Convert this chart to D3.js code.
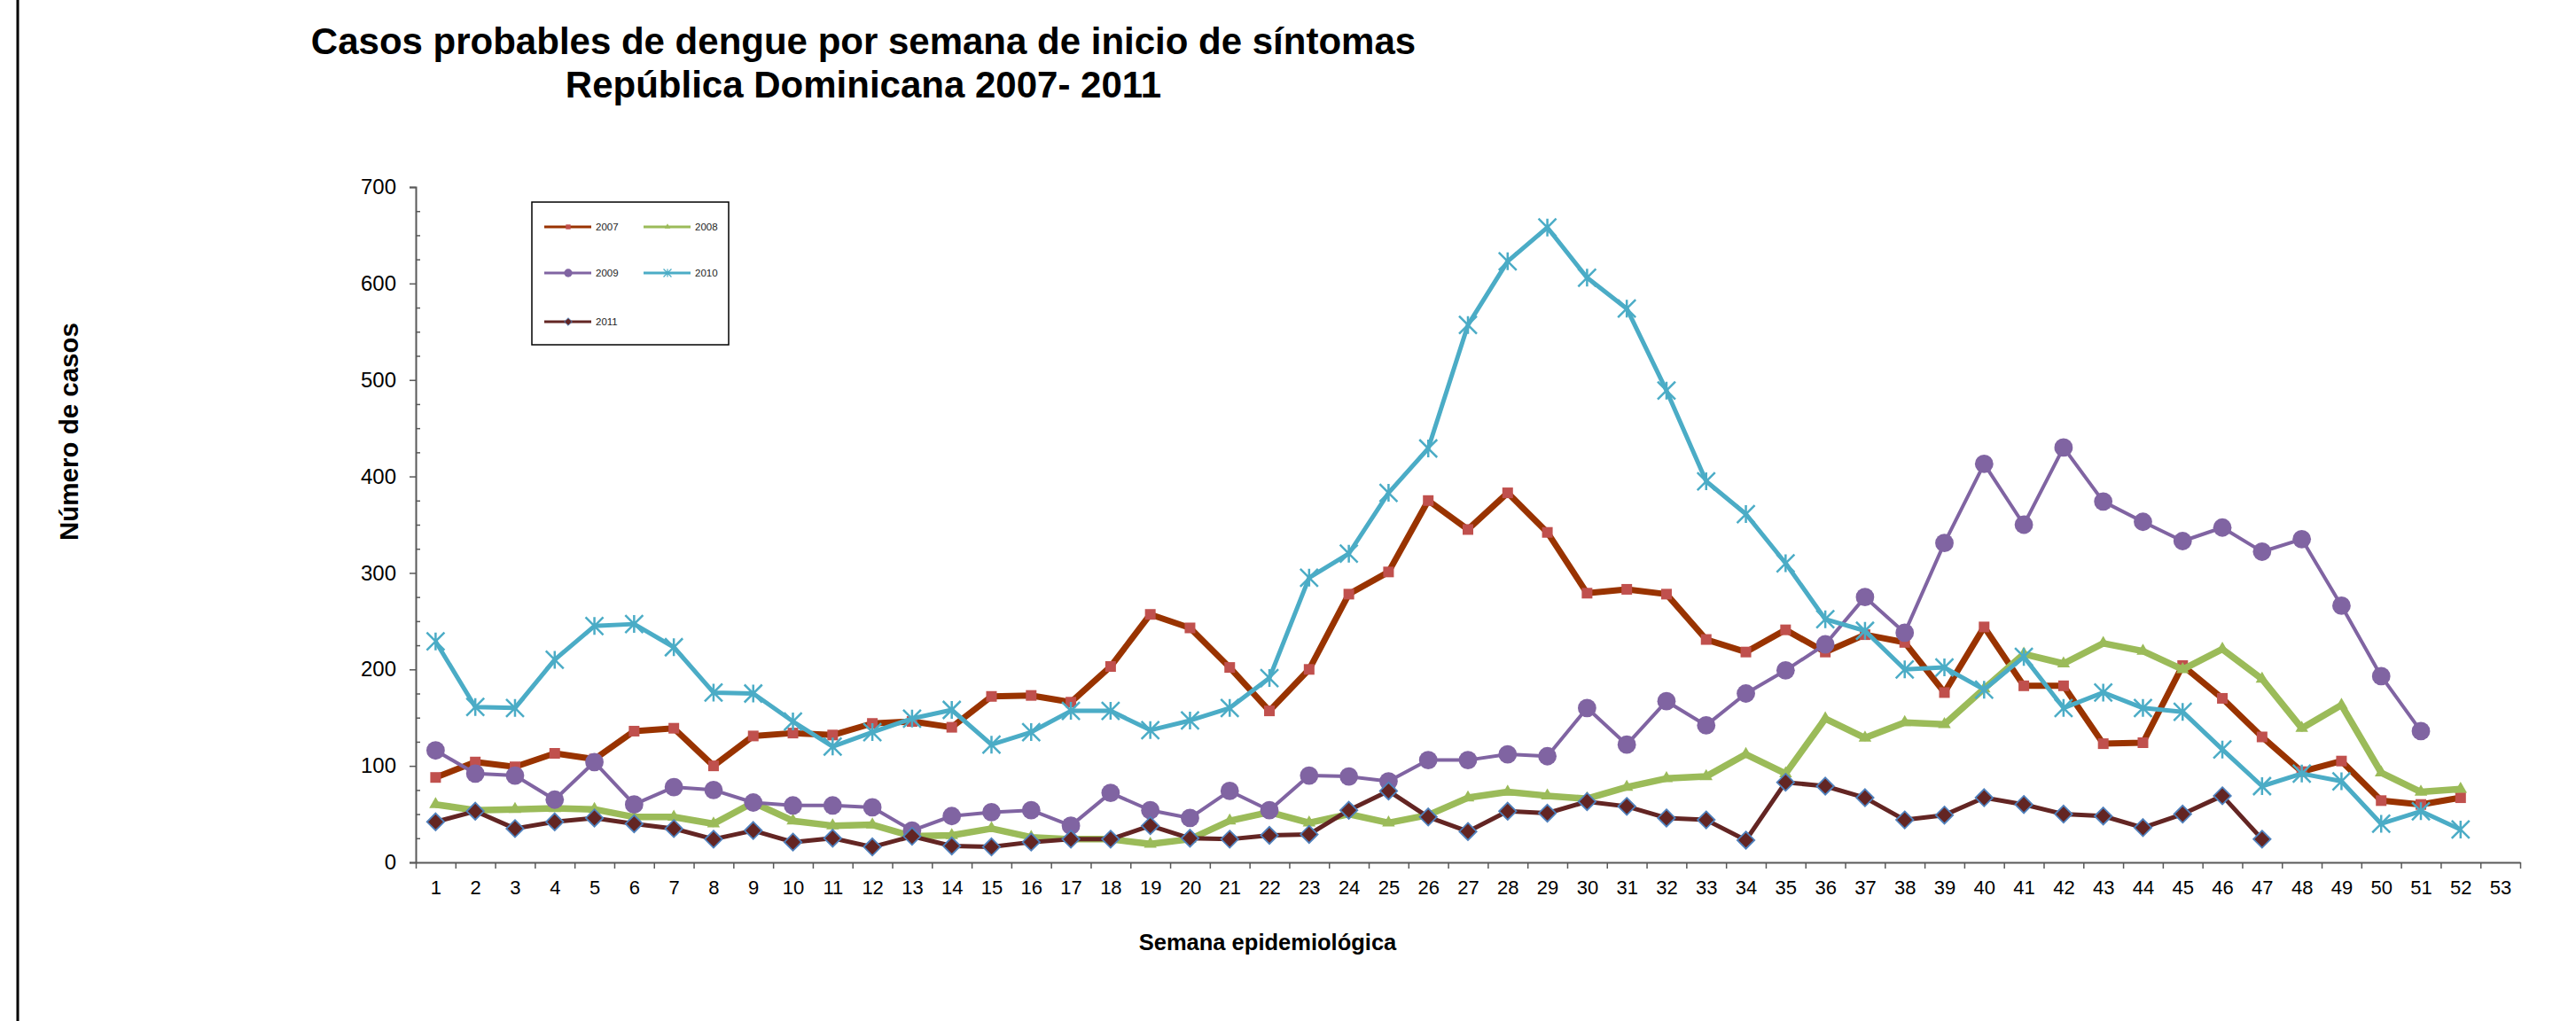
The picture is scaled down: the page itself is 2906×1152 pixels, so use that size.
<!DOCTYPE html>
<html>
<head>
<meta charset="utf-8">
<script src="https://cdn.jsdelivr.net/npm/d3@7"></script>
<style>
  body { margin: 0; background: #fff; }
  svg { display: block; font-family: Arial, 'Liberation Sans', sans-serif; }
</style>
</head>
<body>
<div id="chart"></div>
<script>
// weeks shown on the axis (no data for 53)
const weeks = d3.range(1, 54);
const years = ['2007', '2008', '2009', '2010', '2011'];

const cases2007 = [88, 104, 99, 113, 107, 136, 139, 100, 131, 134, 132, 144, 146, 140, 172, 173, 166, 203, 257, 243,
  202, 157, 200, 278, 301, 375, 345, 383, 342, 279, 283, 278, 231, 218, 241, 218, 236, 228, 176, 244,
  183, 183, 123, 124, 204, 170, 130, 94, 105, 64, 60, 67];
const cases2008 = [60, 54, 55, 56, 55, 47, 47, 40, 62, 43, 38, 39, 27, 28, 35, 26, 24, 24, 19, 24,
  43, 52, 41, 50, 41, 49, 67, 73, 69, 66, 78, 87, 89, 112, 92, 149, 129, 145, 143, 180,
  216, 206, 227, 219, 200, 221, 190, 139, 163, 93, 73, 76];
const cases2009 = [116, 92, 90, 65, 104, 60, 78, 75, 62, 59, 59, 57, 33, 48, 52, 54, 38, 72, 54, 46,
  74, 54, 90, 89, 84, 106, 106, 112, 110, 160, 122, 167, 142, 175, 199, 226, 275, 238, 331, 413,
  350, 430, 374, 353, 333, 347, 322, 335, 266, 193, 136];
const cases2010 = [229, 161, 160, 210, 245, 247, 223, 176, 175, 146, 120, 135, 149, 158, 122, 135, 157, 157, 137, 147,
  160, 191, 295, 320, 383, 429, 557, 623, 658, 606, 574, 489, 395, 361, 310, 252, 240, 200, 202, 179,
  213, 160, 176, 160, 156, 117, 79, 92, 84, 40, 53, 34];
const cases2011 = [42, 53, 35, 42, 46, 40, 35, 24, 33, 21, 25, 16, 27, 17, 16, 21, 24, 24, 38, 25,
  24, 28, 29, 54, 74, 47, 32, 53, 51, 63, 58, 46, 44, 23, 83, 79, 67, 44, 49, 67,
  60, 50, 48, 36, 50, 69, 24];

const yTicks = [0, 100, 200, 300, 400, 500, 600, 700];
const yMinorTicks = d3.range(25, 700, 25).filter(v => v % 100 !== 0);

const width = 2906;
const height = 1152;
const plot = { left: 469, right: 2843, top: 211, bottom: 973 };

// excel style star marker: an X with a vertical bar
const symbolStar = {
  draw(ctx, size) {
    const r = Math.sqrt(size) / 2;
    ctx.moveTo(-r, -r); ctx.lineTo(r, r);
    ctx.moveTo(-r, r); ctx.lineTo(r, -r);
    ctx.moveTo(0, -r); ctx.lineTo(0, r);
  }
};

const styles = {
  '2007': { line: '#993300', lw: 7, symbol: d3.symbolSquare, size: 144, fill: '#C0504D', stroke: 'none', sw: 0 },
  '2008': { line: '#9BBB59', lw: 7.5, symbol: d3.symbolTriangle, size: 90, fill: '#9BBB59', stroke: 'none', sw: 0 },
  '2009': { line: '#8064A2', lw: 4, symbol: d3.symbolCircle, size: 340, fill: '#8064A2', stroke: 'none', sw: 0 },
  '2010': { line: '#4BACC6', lw: 5, symbol: symbolStar, size: 400, fill: 'none', stroke: '#4BACC6', sw: 2.5 },
  '2011': { line: '#632523', lw: 5, symbol: d3.symbolDiamond2, size: 240, fill: '#632523', stroke: '#4F81BD', sw: 1.8 }
};

const seriesValues = [cases2007, cases2008, cases2009, cases2010, cases2011];
const series = years.map((yr, i) => ({
  name: yr,
  values: seriesValues[i].map((v, j) => ({ week: weeks[j], value: v }))
}));

const svg = d3.select('#chart')
  .append('svg')
  .attr('width', width)
  .attr('height', height);

svg.append('rect').attr('width', width).attr('height', height).attr('fill', '#fff');

// frame line on the left edge
svg.append('line')
  .attr('x1', 20).attr('x2', 20)
  .attr('y1', 0).attr('y2', height)
  .attr('stroke', '#000')
  .attr('stroke-width', 3);

const x = d3.scaleLinear()
  .domain([0.5, weeks.length + 0.5])
  .range([plot.left, plot.right]);

const y = d3.scaleLinear()
  .domain([0, 700])
  .range([plot.bottom, plot.top]);

// Title
const title = svg.append('text')
  .attr('text-anchor', 'middle')
  .style('font-weight', 'bold')
  .style('font-size', '42px')
  .attr('fill', '#000');
title.append('tspan').attr('x', 974).attr('y', 61).text('Casos probables de dengue por semana de inicio de síntomas');
title.append('tspan').attr('x', 974).attr('y', 110).text('República Dominicana 2007- 2011');

// Y axis: labelled ticks every 100, minor every 25 on the inside
const yAxis = svg.append('g')
  .attr('transform', `translate(${plot.left},0)`)
  .call(d3.axisLeft(y).tickValues(yTicks).tickSize(7).tickPadding(15).tickFormat(d3.format('d')));

svg.append('g')
  .attr('transform', `translate(${plot.left},0)`)
  .call(d3.axisRight(y).tickValues(yMinorTicks).tickSize(5).tickFormat(''))
  .call(g => g.select('.domain').remove());

// X axis: ticks between weeks, labels on the weeks
svg.append('g')
  .attr('transform', `translate(0,${plot.bottom})`)
  .call(d3.axisBottom(x).tickValues(d3.range(0.5, weeks.length + 1, 1)).tickSize(7).tickSizeOuter(0).tickFormat(''));

const xLabels = svg.append('g')
  .attr('transform', `translate(0,${plot.bottom})`)
  .call(d3.axisBottom(x).tickValues(weeks).tickSize(0).tickPadding(20).tickFormat(d3.format('d')))
  .call(g => g.select('.domain').remove());

svg.selectAll('.domain').attr('stroke', '#595959').attr('stroke-width', 2);
svg.selectAll('.tick line').attr('stroke', '#595959').attr('stroke-width', 1.5);
yAxis.selectAll('.tick text').style('font-size', '24px').attr('fill', '#000');
xLabels.selectAll('.tick text').style('font-size', '22px').attr('fill', '#000');

// axis titles
svg.append('text')
  .attr('x', 1430)
  .attr('y', 1072)
  .attr('text-anchor', 'middle')
  .style('font-weight', 'bold')
  .style('font-size', '25.5px')
  .text('Semana epidemiológica');

svg.append('text')
  .attr('transform', 'translate(88,487) rotate(-90)')
  .attr('text-anchor', 'middle')
  .style('font-weight', 'bold')
  .style('font-size', '29.5px')
  .text('Número de casos');

// Lines and markers, later years on top
const line = d3.line()
  .x(d => x(d.week))
  .y(d => y(d.value));

series.forEach(s => {
  const st = styles[s.name];
  const g = svg.append('g').attr('class', 'series');
  g.append('path')
    .datum(s.values)
    .attr('d', line)
    .attr('fill', 'none')
    .attr('stroke', st.line)
    .attr('stroke-width', st.lw)
    .attr('stroke-linejoin', 'round');
  g.selectAll('path.marker')
    .data(s.values)
    .join('path')
    .attr('class', 'marker')
    .attr('transform', d => `translate(${x(d.week)},${y(d.value)})`)
    .attr('d', d3.symbol().type(st.symbol).size(st.size))
    .attr('fill', st.fill)
    .attr('stroke', st.stroke)
    .attr('stroke-width', st.sw);
});

// Legend
const legend = svg.append('g');
legend.append('rect')
  .attr('x', 600).attr('y', 228)
  .attr('width', 222).attr('height', 161)
  .attr('fill', '#fff')
  .attr('stroke', '#000')
  .attr('stroke-width', 1.5);

const legendPos = [[614, 256], [726, 256], [614, 308], [726, 308], [614, 363]];
years.forEach((yr, i) => {
  const st = styles[yr];
  const [lx, ly] = legendPos[i];
  const item = legend.append('g').attr('transform', `translate(${lx},${ly})`);
  item.append('line')
    .attr('x1', 0).attr('x2', 53)
    .attr('stroke', st.line)
    .attr('stroke-width', 3);
  item.append('path')
    .attr('transform', 'translate(27,0)')
    .attr('d', d3.symbol().type(st.symbol).size(st.size * 0.2))
    .attr('fill', st.fill)
    .attr('stroke', st.stroke)
    .attr('stroke-width', st.sw * 0.5);
  item.append('text')
    .attr('x', 58)
    .attr('dy', '0.35em')
    .style('font-size', '11.5px')
    .attr('fill', '#222')
    .text(yr);
});
</script>
</body>
</html>
